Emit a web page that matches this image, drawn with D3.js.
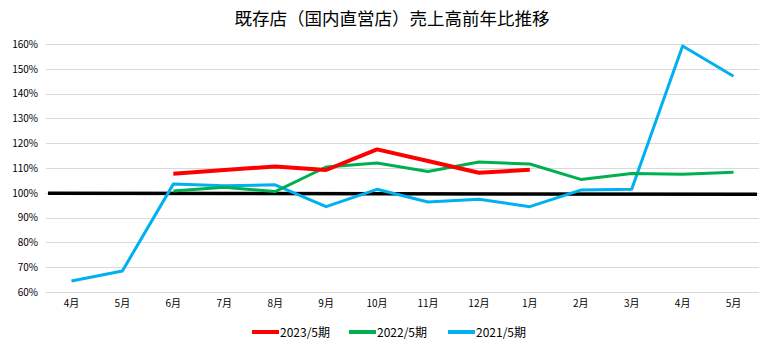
<!DOCTYPE html>
<meta charset="utf-8">
<style>
body { margin: 0; background: #fff; }
text { font-family: "Noto Sans CJK JP", sans-serif; fill: #000; }
.grid line { stroke: #d9d9d9; stroke-width: 1; }
.series path { fill: none; stroke-linejoin: round; }
</style>
<svg width="771" height="354"></svg>
<script src="https://cdn.jsdelivr.net/npm/d3@7"></script>
<script>

var months = ["4月", "5月", "6月", "7月", "8月", "9月", "10月", "11月", "12月", "1月", "2月", "3月", "4月", "5月"];
var yTicks = [60, 70, 80, 90, 100, 110, 120, 130, 140, 150, 160];

// values in %, null = no data
var fy2023 = [null, null, 107.7, 109.2, 110.6, 109.2, 117.5, 112.8, 108.1, 109.3, null, null, null, null];
var fy2022 = [null, null, 100.7, 102.2, 100.5, 110.4, 112.0, 108.6, 112.4, 111.6, 105.4, 107.8, 107.5, 108.3];
var fy2021 = [64.4, 68.5, 103.5, 102.8, 103.2, 94.4, 101.4, 96.3, 97.4, 94.4, 101.1, 101.4, 159.2, 147.0];
// 100% reference line, left edge / right edge of plot
var baseline = [99.8, 99.4];

var series = [
  { name: "2023/5期", values: fy2023, color: "#ff0000", width: 4 },
  { name: "2022/5期", values: fy2022, color: "#00b050", width: 3 },
  { name: "2021/5期", values: fy2021, color: "#00b0f0", width: 3 }
];

var svg = d3.select("svg");
var plotLeft = 46, plotRight = 759, plotTop = 44, plotBottom = 292;

var x = d3.scaleBand()
    .domain(d3.range(months.length))
    .range([plotLeft, plotRight]);

var y = d3.scaleLinear()
    .domain([60, 160])
    .range([plotBottom, plotTop]);

svg.append("text")
    .attr("x", 392)
    .attr("y", 25)
    .attr("text-anchor", "middle")
    .style("font-size", "17.5px")
    .text("既存店（国内直営店）売上高前年比推移");

svg.append("g")
    .attr("class", "grid")
  .selectAll("line")
  .data(yTicks)
  .enter().append("line")
    .attr("x1", plotLeft)
    .attr("x2", plotRight)
    .attr("y1", function(d) { return Math.round(y(d)) + 0.5; })
    .attr("y2", function(d) { return Math.round(y(d)) + 0.5; });

var yAxis = svg.append("g")
    .attr("transform", "translate(" + plotLeft + ",0)")
    .call(d3.axisLeft(y).tickValues(yTicks).tickSize(0).tickPadding(8)
      .tickFormat(function(d) { return d + "%"; }));
yAxis.select(".domain").remove();
yAxis.selectAll("text").style("font-size", "10px").style("font-family", "\"Noto Sans CJK JP\", sans-serif");

var xAxis = svg.append("g")
    .attr("transform", "translate(0," + plotBottom + ")")
    .call(d3.axisBottom(x).tickSize(0).tickPadding(8)
      .tickFormat(function(i) { return months[i]; }));
xAxis.select(".domain").remove();
xAxis.selectAll("text").style("font-size", "10px").style("font-family", "\"Noto Sans CJK JP\", sans-serif");

// black 100% line across the plot
svg.append("line")
    .attr("x1", plotLeft + 2)
    .attr("x2", plotRight - 2)
    .attr("y1", y(baseline[0]))
    .attr("y2", y(baseline[1]))
    .attr("stroke", "#000")
    .attr("stroke-width", 3.5);

var line = d3.line()
    .defined(function(d) { return d != null; })
    .x(function(d, i) { return x(i) + x.bandwidth() / 2; })
    .y(function(d) { return y(d); });

svg.append("g")
    .attr("class", "series")
  .selectAll("path")
  .data(series.slice().reverse())
  .enter().append("path")
    .attr("d", function(s) { return line(s.values); })
    .attr("stroke", function(s) { return s.color; })
    .attr("stroke-width", function(s) { return s.width; });

var legendX = [252, 349, 448];
var legend = svg.append("g")
  .selectAll("g")
  .data(series)
  .enter().append("g")
    .attr("transform", function(s, i) { return "translate(" + legendX[i] + ",332)"; });

legend.append("line")
    .attr("x1", 0)
    .attr("x2", 27)
    .attr("stroke", function(s) { return s.color; })
    .attr("stroke-width", 4);

legend.append("text")
    .attr("x", 28)
    .attr("y", 4.5)
    .style("font-size", "12px")
    .text(function(s) { return s.name; });

</script>
